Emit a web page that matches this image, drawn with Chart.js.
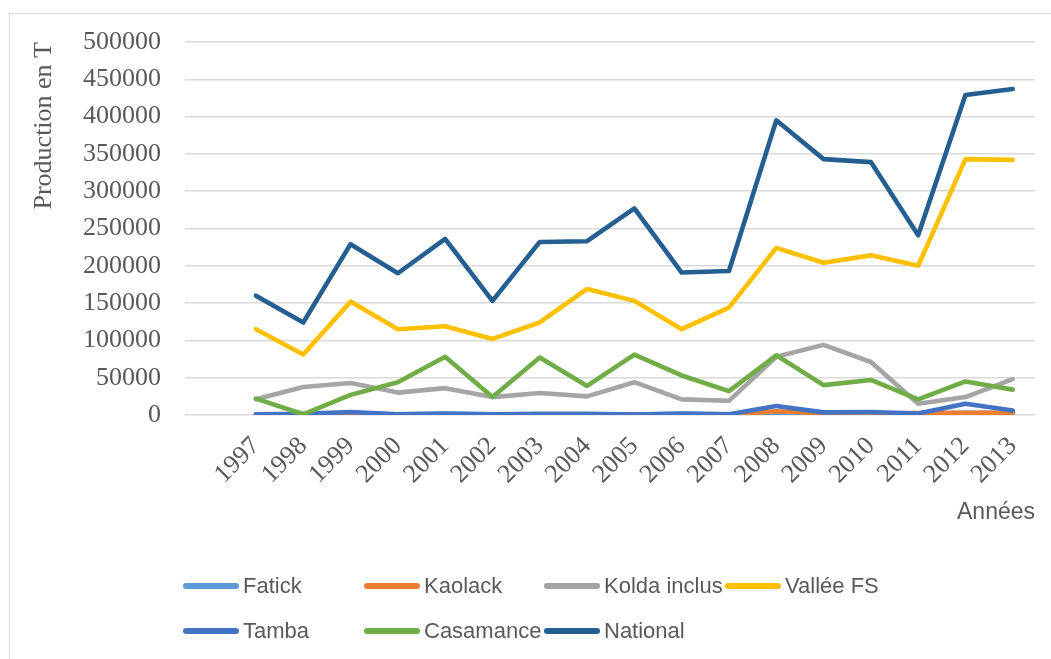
<!DOCTYPE html>
<html>
<head>
<meta charset="utf-8">
<script src="https://cdn.jsdelivr.net/npm/chart.js"></script>
<style>
  body { margin: 0; background: #fff; overflow: hidden; }
  #wrap { position: relative; width: 1051px; height: 659px; overflow: hidden; }
  #frame { position: absolute; left: 9px; top: 13px; width: 1100px; height: 700px; border: 1px solid #D9D9D9; }
  #box { position: absolute; left: 0; top: 0; width: 1051px; height: 659px; }
  .leg { position: absolute; height: 26px; font: 22px "Liberation Sans", Arial, sans-serif; color: #595959; white-space: nowrap; }
  .leg span.mark { position: absolute; left: 0; top: 10px; width: 56px; height: 5.5px; border-radius: 3px; }
  .leg span.txt { position: absolute; left: 60px; top: 0; line-height: 26px; }
</style>
</head>
<body>
<div id="wrap">
  <div id="frame"></div>
  <div id="box"><canvas id="myChart"></canvas></div>
</div>
<script>
var years = [1997, 1998, 1999, 2000, 2001, 2002, 2003, 2004, 2005, 2006, 2007, 2008, 2009, 2010, 2011, 2012, 2013];

var fatick    = [1000, 1000, 2000, 1000, 1500, 1000, 1000, 1000, 500, 1500, 1000, 2500, 2000, 2500, 1500, 3000, 2500];
var kaolack   = [500, 500, 1000, 500, 500, 500, 500, 500, 500, 500, 500, 5000, 2500, 2000, 2500, 3000, 3000];
var kolda     = [21000, 37500, 43000, 30000, 36000, 24000, 29500, 25000, 44000, 21000, 19000, 78000, 94000, 71000, 15000, 24000, 48000];
var vallee    = [115000, 81000, 152000, 115000, 119000, 102000, 124000, 169000, 153000, 115000, 144000, 224000, 204000, 214000, 200000, 343000, 342000];
var tamba     = [1000, 1500, 4000, 1000, 2000, 1000, 1500, 1500, 500, 2000, 1000, 12000, 3500, 4000, 2000, 15000, 6000];
var casamance = [22000, 1000, 27000, 44000, 78000, 24000, 77000, 39000, 81000, 53000, 32000, 80000, 40000, 47000, 21000, 45000, 34000];
var national  = [160000, 124000, 229000, 190000, 236000, 153000, 232000, 233000, 277000, 191000, 193000, 395000, 343000, 339000, 241000, 429000, 437000];

var names  = ['Fatick', 'Kaolack', 'Kolda inclus', 'Vallée FS', 'Tamba', 'Casamance', 'National'];
var series = [fatick, kaolack, kolda, vallee, tamba, casamance, national];
var colors = ['#5B9BD5', '#ED7D31', '#A5A5A5', '#FFC000', '#4472C4', '#70AD47', '#255E91'];

var yTicks = [0, 50000, 100000, 150000, 200000, 250000, 300000, 350000, 400000, 450000, 500000];

var datasets = names.map(function (name, i) {
    return {
        label: name,
        data: years.map(function (y, j) { return { x: y, y: series[i][j] }; }),
        borderColor: colors[i],
        backgroundColor: colors[i],
        borderWidth: 4.6,
        borderCapStyle: 'round',
        borderJoinStyle: 'round',
        pointRadius: 0,
        tension: 0,
        order: names.length - i
    };
});

var serif = '"Liberation Serif", "Times New Roman", serif';
var sans = '"Liberation Sans", Arial, sans-serif';

var ctx = document.getElementById('myChart').getContext('2d');
var chart = new Chart(ctx, {
    type: 'line',
    data: { datasets: datasets },
    options: {
        responsive: true,
        maintainAspectRatio: false,
        animation: false,
        layout: { padding: { left: 0, right: 16, top: 42, bottom: 120 } },
        plugins: { legend: { display: false }, tooltip: { enabled: false } },
        scales: {
            x: {
                type: 'linear',
                min: 1995.5,
                max: 2013.47,
                afterFit: function (scale) { scale.height = 124; },
                afterBuildTicks: function (scale) { scale.ticks = years.map(function (v) { return { value: v }; }); },
                grid: { display: false },
                border: { display: false },
                ticks: {
                    autoSkip: false,
                    minRotation: 45,
                    maxRotation: 45,
                    padding: 8,
                    color: '#595959',
                    font: { family: serif, size: 26 },
                    callback: function (v) { return String(v); }
                },
                title: {
                    display: true,
                    text: 'Années',
                    align: 'end',
                    color: '#595959',
                    font: { family: sans, size: 23 },
                    padding: { top: 0, bottom: 13 }
                }
            },
            y: {
                min: 0,
                max: 500000,
                afterFit: function (scale) { scale.width = 185; },
                afterBuildTicks: function (scale) { scale.ticks = yTicks.map(function (v) { return { value: v }; }); },
                grid: { color: '#D9D9D9', lineWidth: 1.5, drawTicks: false },
                border: { display: false },
                ticks: {
                    padding: 24,
                    color: '#595959',
                    font: { family: serif, size: 26 },
                    callback: function (v) { return String(v); }
                },
                title: {
                    display: true,
                    text: 'Production en T',
                    align: 'end',
                    color: '#595959',
                    font: { family: serif, size: 26 },
                    padding: { top: 29, bottom: 0 }
                }
            }
        }
    }
});

// legend, laid out in Excel-like columns
var legX = [183, 364, 544, 725];
var legY = [573, 618];
var wrap = document.getElementById('wrap');
names.forEach(function (name, i) {
    var d = document.createElement('div');
    d.className = 'leg';
    d.style.left = legX[i % 4] + 'px';
    d.style.top = legY[Math.floor(i / 4)] + 'px';
    var m = document.createElement('span');
    m.className = 'mark';
    m.style.background = colors[i];
    var t = document.createElement('span');
    t.className = 'txt';
    t.textContent = name;
    d.appendChild(m);
    d.appendChild(t);
    wrap.appendChild(d);
});
</script>
</body>
</html>
